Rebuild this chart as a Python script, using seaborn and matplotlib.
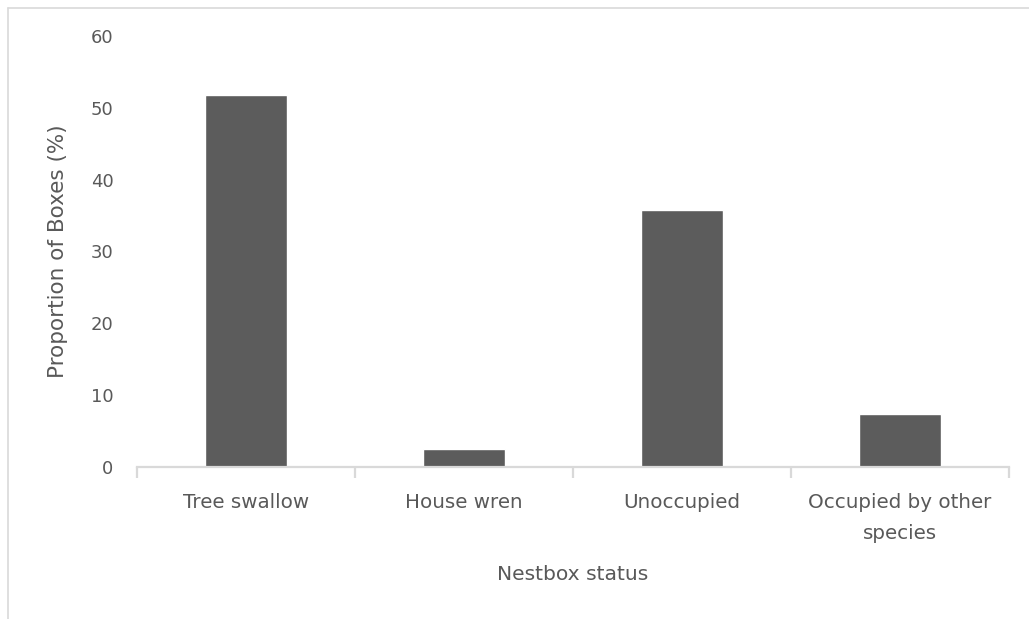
import matplotlib
matplotlib.use("Agg")
import matplotlib.pyplot as plt
from matplotlib.lines import Line2D
import seaborn as sns
import pandas as pd

categories = ["Tree swallow", "House wren", "Unoccupied", "Occupied by other\nspecies"]
proportions = [51.85, 2.47, 35.80, 7.41]
y_ticks = [0, 10, 20, 30, 40, 50, 60]

df = pd.DataFrame({"status": categories, "proportion": proportions})

sns.set_theme(style="white")
plt.rcParams["font.family"] = ["DejaVu Sans"]

text_color = "#595959"
bar_color = "#5c5c5c"
axis_color = "#D9D9D9"

fig = plt.figure(figsize=(10.29, 6.19), dpi=100)
ax = fig.add_axes([137 / 1029, 1 - 466.7 / 619, 872 / 1029, (466.7 - 36) / 619])

sns.barplot(data=df, x="status", y="proportion", color=bar_color,
            saturation=1, width=0.38, ax=ax)

ax.set_ylim(0, 60)
ax.set_xlim(-0.5, len(categories) - 0.5)
ax.set_yticks(y_ticks)
ax.set_yticklabels([str(t) for t in y_ticks])

for s in ["top", "right", "left"]:
    ax.spines[s].set_visible(False)
ax.spines["bottom"].set_color(axis_color)
ax.spines["bottom"].set_linewidth(1.6)

ax.set_xticks(range(len(categories)))
ax.set_xticklabels(categories, linespacing=1.8)
ax.tick_params(axis="x", length=0, pad=19, labelsize=14.3, labelcolor=text_color)
ax.tick_params(axis="y", length=0, pad=17, labelsize=13, labelcolor=text_color)

# category separators along the baseline
for b in [i - 0.5 for i in range(len(categories) + 1)]:
    ax.plot([b, b], [0, -1.6], color=axis_color, lw=1.6, clip_on=False,
            solid_capstyle="butt")

ax.set_xlabel("Nestbox status", fontsize=14.6, color=text_color, labelpad=16)
ax.set_ylabel("Proportion of Boxes (%)", fontsize=15.5, color=text_color, labelpad=16)
ax.grid(False)

# outer chart-area border
fig.add_artist(Line2D([7.5 / 1029, 1], [1 - 7.5 / 619, 1 - 7.5 / 619],
                      transform=fig.transFigure, color="#D9D9D9", lw=1.2))
fig.add_artist(Line2D([7.5 / 1029, 7.5 / 1029], [0, 1 - 7.5 / 619],
                      transform=fig.transFigure, color="#D9D9D9", lw=1.2))

fig.savefig("out.png", dpi=100, facecolor="white")
